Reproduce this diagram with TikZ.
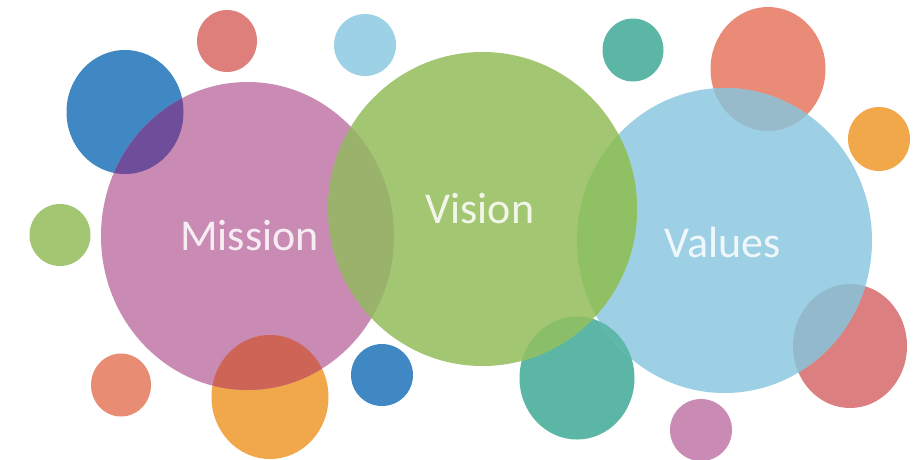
\documentclass[tikz,border=0pt]{standalone}
\usepackage{fontspec}
\setmainfont{Carlito}
\definecolor{cMission}{HTML}{C98AB3}
\definecolor{cVision}{HTML}{A3C672}
\definecolor{cValues}{HTML}{9DD0E4}
\definecolor{cMV}{HTML}{9AB26B}
\definecolor{cVVa}{HTML}{8FC064}
\definecolor{cBlue}{HTML}{4088C3}
\definecolor{cPurple}{HTML}{6E4E9A}
\definecolor{cOrange}{HTML}{F1A84B}
\definecolor{cRed}{HTML}{CE6455}
\definecolor{cSalmonA}{HTML}{DE7F7B}
\definecolor{cSalmonB}{HTML}{E98B76}
\definecolor{cSalmonC}{HTML}{E88C73}
\definecolor{cRose}{HTML}{DC7F80}
\definecolor{cGreyBlue}{HTML}{97BBCB}
\definecolor{cGreyBlueB}{HTML}{93B9CD}
\definecolor{cTeal}{HTML}{5CB6A5}
\definecolor{cTealV}{HTML}{8BBE68}
\definecolor{cTealVa}{HTML}{5EB8AA}
\definecolor{cLight}{HTML}{9DD1E6}
\tikzset{
  lbl/.style={anchor=base, text=white, text opacity=0.85, font=\fontsize{44}{44}\selectfont, inner sep=0pt},
}
\begin{document}
\begin{tikzpicture}[x=1pt,y=-1pt]
\useasboundingbox[fill=white] (0,0) rectangle (918,459);
% small circles
\fill[cBlue]    (125,112) ellipse [x radius=58.5pt, y radius=62pt];
\fill[cSalmonA] (227,41)  ellipse [x radius=30pt, y radius=31pt];
\fill[cLight]   (365,45)  ellipse [x radius=31pt, y radius=31pt];
\fill[cTeal]    (633,50)  ellipse [x radius=30.5pt, y radius=31.5pt];
\fill[cSalmonB] (768,69)  ellipse [x radius=57.5pt, y radius=62pt];
\fill[cOrange]  (879,139) ellipse [x radius=31pt, y radius=32pt];
\fill[cVision]  (60,235)  ellipse [x radius=30.5pt, y radius=31pt];
\fill[cSalmonC] (121,385) ellipse [x radius=30pt, y radius=31.5pt];
\fill[cOrange]  (270,397) ellipse [x radius=58.5pt, y radius=62pt];
\fill[cBlue]    (382,375) ellipse [x radius=31pt, y radius=31pt];
\fill[cTeal]    (577,378) ellipse [x radius=57.5pt, y radius=61.5pt];
\fill[cMission] (701,430) ellipse [x radius=31pt, y radius=31pt];
\fill[cRose]    (850,346) ellipse [x radius=57pt, y radius=62pt];
% big circles
\fill[cMission] (247.5,236) ellipse [x radius=146.5pt, y radius=154pt];
\fill[cValues]  (724.5,240.5) ellipse [x radius=147.5pt, y radius=152.5pt];
\fill[cVision]  (482.5,209) ellipse [x radius=154.5pt, y radius=157pt];
% overlaps with Mission
\begin{scope}
  \clip (247.5,236) ellipse [x radius=146.5pt, y radius=154pt];
  \fill[cPurple] (125,112) ellipse [x radius=58.5pt, y radius=62pt];
  \fill[cRed]    (270,397) ellipse [x radius=58.5pt, y radius=62pt];
  \fill[cMV]     (482.5,209) ellipse [x radius=154.5pt, y radius=157pt];
\end{scope}
% overlaps with Values
\begin{scope}
  \clip (724.5,240.5) ellipse [x radius=147.5pt, y radius=152.5pt];
  \fill[cGreyBlue]  (768,69)  ellipse [x radius=57.5pt, y radius=62pt];
  \fill[cGreyBlueB] (850,346) ellipse [x radius=57pt, y radius=62pt];
  \fill[cTealVa]    (577,378) ellipse [x radius=57.5pt, y radius=61.5pt];
  \fill[cVVa]       (482.5,209) ellipse [x radius=154.5pt, y radius=157pt];
\end{scope}
% overlap Vision and teal
\begin{scope}
  \clip (482.5,209) ellipse [x radius=154.5pt, y radius=157pt];
  \fill[cTealV] (577,378) ellipse [x radius=57.5pt, y radius=61.5pt];
\end{scope}
% labels
\node[lbl] (mission) at (249.5,250) {Mission};
\node[lbl] (vision)  at (480,223)   {Vision};
\node[lbl] (values)  at (722.5,257) {Values};
\end{tikzpicture}
\end{document}
